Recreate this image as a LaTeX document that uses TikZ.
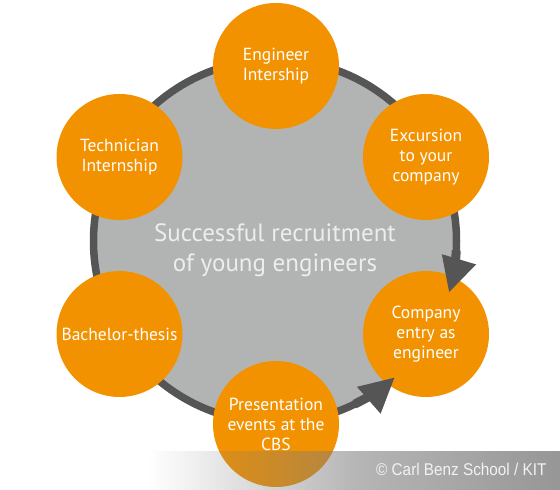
\documentclass[tikz,border=0pt]{standalone}
\usepackage{fontspec}
\setmainfont{PT Sans}
\newfontfamily\copyfont[FakeStretch=0.9]{Liberation Sans}
\usetikzlibrary{arrows.meta,fadings}

\definecolor{cbsorange}{RGB}{243,146,0}
\definecolor{ringgrey}{RGB}{85,85,85}
\definecolor{fillgrey}{RGB}{178,180,180}
\definecolor{bargrey}{RGB}{124,124,124}

\tikzfading[name=barfade, left color=transparent!100, right color=transparent!0, middle color=transparent!30]

\tikzset{
    step circle/.style = {circle, fill = cbsorange, minimum size = 126pt, inner sep = 0pt,
        text = white, align = center, font = \fontsize{17.5}{20}\selectfont},
    ring arrow/.style = {ringgrey, line width = 9pt, -{Triangle[length = 35pt, width = 33pt]}}
}

\begin{document}
\begin{tikzpicture}[x = 1pt, y = 1pt]
        \useasboundingbox (0, 0) rectangle (560, 490);
        % big grey circle with its ring
        \coordinate (hub) at (275, 249);
        \draw[ringgrey, line width = 7.5pt, fill = fillgrey] (hub) circle (181.5);
        \node[text = white!93!black, align = center, font = \fontsize{25}{30}\selectfont] (goal) at (275, 240)
            {Successful recruitment\\of young engineers};

        \node[step circle] (eng) at (276, 424) {Engineer\\Intership};
        \node[step circle] (exc) at (426, 333) {Excursion\\to your\\company};
        \node[step circle] (comp) at (426, 156) {Company\\entry as\\engineer};
        \node[step circle] (pres) at (276, 66) {Presentation\\events at the\\CBS};
        \node[step circle] (bach) at (119.5, 156) {Bachelor-thesis};
        \node[step circle] (tech) at (119.5, 333) {Technician\\Internship};

        % both arrows end on the company entry
        \draw[ring arrow] ([shift = {(-3:181.5)}]hub) arc[start angle = -3, end angle = -16.6, radius = 181.5];
        \draw[ring arrow] ([shift = {(-64:181.5)}]hub) arc[start angle = -64, end angle = -48.6, radius = 181.5];

        % copyright bar
        \fill[bargrey, fill opacity = 0.8, path fading = barfade] (150, 0) rectangle (560, 39);
        \node[anchor = base east, text = white!95!black, font = \copyfont\fontsize{17}{20}\selectfont] (copy) at (550, 14)
            {© Carl Benz School / KIT};

    \end{tikzpicture}
\end{document}
